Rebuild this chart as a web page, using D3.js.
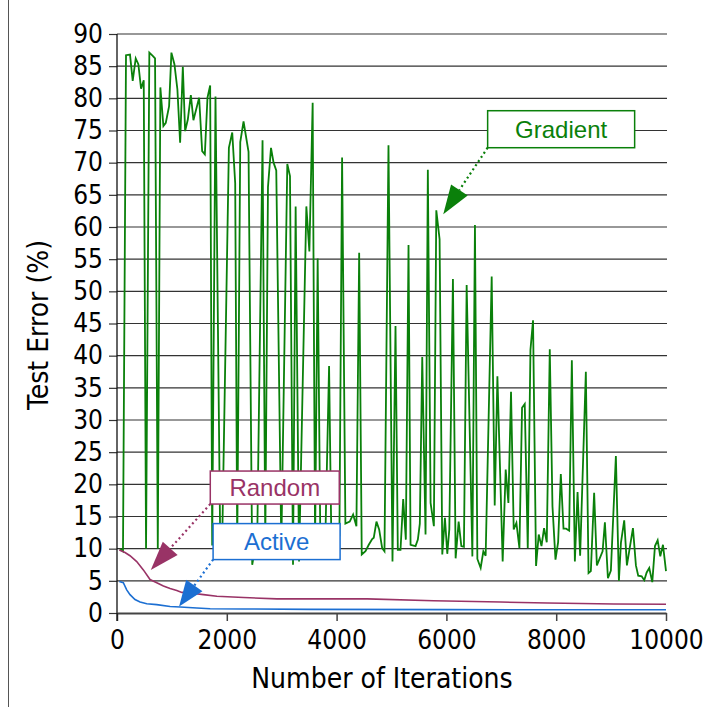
<!DOCTYPE html>
<html>
<head>
<meta charset="utf-8">
<script src="https://cdn.jsdelivr.net/npm/d3@7"></script>
<style>
  body { margin: 0; background: #fff; }
  svg { display: block; }
  .tick text { font-family: "DejaVu Sans Condensed", "DejaVu Sans", sans-serif; font-size: 26px; fill: #000; }
  .title { font-family: "DejaVu Sans Condensed", "DejaVu Sans", sans-serif; font-size: 28px; fill: #000; }
  .note { font-family: "Liberation Sans", Arial, sans-serif; font-size: 24px; }
</style>
</head>
<body>
<svg id="chart" width="709" height="707"></svg>
<script>
const iterTicks = [0, 2000, 4000, 6000, 8000, 10000];
const errorTicks = [0, 5, 10, 15, 20, 25, 30, 35, 40, 45, 50, 55, 60, 65, 70, 75, 80, 85, 90];

const gradientIter = [55,109,164,237,286,341,389,438,487,529,589,651,693,743,790,845,889,949,991,1046,1100,1150,1199,1241,1290,1345,1392,1496,1551,1600,1648,1697,1734,1794,1880,1916,2038,2099,2153,2190,2245,2305,2396,2463,2555,2651,2701,2750,2805,2852,2901,2993,3102,3151,3206,3254,3316,3449,3504,3564,3608,3655,3704,3796,3863,3905,4051,4100,4160,4239,4301,4361,4411,4458,4526,4586,4648,4677,4726,4775,4830,4872,4945,5018,5073,5115,5164,5213,5261,5310,5347,5438,5480,5516,5560,5620,5662,5712,5772,5816,5876,5925,5973,6016,6053,6119,6168,6223,6272,6319,6369,6473,6520,6564,6624,6673,6715,6825,6880,6929,7025,7080,7129,7177,7226,7275,7330,7378,7427,7482,7531,7578,7633,7682,7732,7779,7828,7883,7932,7987,8035,8084,8133,8181,8236,8285,8340,8389,8436,8540,8589,8631,8691,8741,8845,8887,8942,8996,9087,9142,9179,9239,9288,9398,9452,9494,9557,9604,9648,9695,9750,9799,9848,9896,9945,10000];
const gradientErr = [10.0,9.6,86.7,86.8,82.7,86.2,85.3,81.5,82.8,10.0,87.1,86.6,86.2,10.0,81.7,75.7,76.2,78.8,87.1,85.3,81.4,73.1,84.9,74.9,76.7,80.5,76.6,80.1,71.8,71.3,80.1,82.0,10.5,80.3,11.0,11.0,72.3,74.7,66.8,10.5,73.2,76.4,71.7,7.5,12.0,73.5,11.0,66.2,72.3,70.0,68.8,10.5,69.8,67.9,7.5,63.2,8.0,63.2,56.2,79.3,11.0,55.1,11.0,12.0,38.4,11.0,12.0,70.8,13.9,14.2,15.3,13.5,56.0,9.1,9.6,10.6,11.5,11.7,14.2,13.0,10.1,9.6,72.7,8.0,44.6,9.8,9.8,17.7,11.4,57.2,10.6,10.4,11.4,13.9,39.8,12.2,68.9,17.1,13.5,62.6,58.1,9.1,14.8,9.2,13.0,51.9,8.5,14.2,10.4,10.3,51.0,8.8,60.3,8.4,7.0,9.6,8.9,52.3,16.7,36.8,8.0,22.3,17.1,34.4,13.0,14.0,10.1,31.9,32.5,10.1,40.9,45.5,7.3,12.2,10.4,13.2,11.0,41.0,16.6,8.3,11.0,21.6,13.1,13.1,12.8,39.3,8.0,18.8,8.9,37.5,6.2,6.5,18.7,7.4,9.6,14.1,5.4,6.6,24.4,5.0,10.9,14.4,7.4,13.2,7.4,5.8,5.7,5.1,6.3,7.0,4.8,10.4,11.3,8.8,10.6,6.5];

const randomIter = [42,146,237,359,480,602,724,845,967,1089,1181,1332,1575,1819,2305,2914,3522,4557,5766,6989,7841,9051,10000];
const randomErr = [9.8,9.4,8.9,8.0,6.7,5.2,4.7,4.2,3.8,3.5,3.2,3.1,2.85,2.6,2.4,2.2,2.2,2.2,1.9,1.7,1.55,1.4,1.35];

const activeIter = [42,115,177,237,328,420,542,724,967,1150,1454,1697,2305,3522,6077,10000];
const activeErr = [4.9,4.7,3.6,2.85,2.1,1.7,1.45,1.3,1.0,0.93,0.78,0.67,0.62,0.57,0.52,0.5];

const seriesNames = ["Gradient", "Random", "Active"];
const seriesColors = ["#0a800a", "#993366", "#1c6fd2"];
// where each callout arrow points, in data units
const tipIter = [5943, 615, 1131];
const tipErr = [62.0, 6.7, 1.0];
// callout box centres, in data units
const boxIter = [8090, 2874, 2907];
const boxErr = [75.2, 19.5, 11.1];

const svg = d3.select("#chart");
const x = d3.scaleLinear([0, 10000], [117, 666]);
const y = d3.scaleLinear([0, 90], [613, 34]);

// frame line on the left
svg.append("line").attr("x1", 8.5).attr("x2", 8.5).attr("y1", 0).attr("y2", 707)
  .attr("stroke", "#555").attr("stroke-width", 1);

// gridlines
svg.append("g").selectAll("line").data(errorTicks.filter((d) => d > 0)).join("line")
  .attr("x1", 117).attr("x2", 667)
  .attr("y1", (d) => y(d)).attr("y2", (d) => y(d))
  .attr("stroke", "#333").attr("stroke-width", 1.2);

const yAxis = svg.append("g").attr("transform", "translate(117,0)")
  .call(d3.axisLeft(y).tickValues(errorTicks).tickSize(8).tickPadding(6).tickFormat(d3.format("d")));
yAxis.select(".domain").remove();
yAxis.selectAll(".tick line").attr("stroke", "#333").attr("stroke-width", 1.2);

const xAxis = svg.append("g").attr("transform", "translate(0,613)")
  .call(d3.axisBottom(x).tickValues(iterTicks).tickSize(8).tickSizeOuter(0).tickPadding(10).tickFormat(d3.format("d")));
xAxis.select(".domain").attr("stroke", "#444").attr("stroke-width", 2.2);
xAxis.selectAll(".tick line").attr("stroke", "#444").attr("stroke-width", 1.5);

svg.append("line").attr("x1", 117).attr("x2", 117).attr("y1", 34).attr("y2", 621)
  .attr("stroke", "#111").attr("stroke-width", 1.3);

// series
const line = d3.line().x((d) => x(d[0])).y((d) => y(d[1]));
const series = [
  d3.zip(gradientIter, gradientErr),
  d3.zip(randomIter, randomErr),
  d3.zip(activeIter, activeErr),
];
svg.append("g").selectAll("path").data(series).join("path")
  .attr("d", line)
  .attr("fill", "none")
  .attr("stroke", (d, i) => seriesColors[i])
  .attr("stroke-width", (d, i) => (i == 0 ? 1.8 : 1.6));

// callouts
const boxW = [147, 129, 127];
const boxH = [37, 33, 36];
seriesNames.forEach((name, i) => {
  const cx = x(boxIter[i]), cy = y(boxErr[i]);
  const x0 = cx - boxW[i] / 2, y1 = cy + boxH[i] / 2;
  const tx = x(tipIter[i]), ty = y(tipErr[i]);
  const dx = tx - x0, dy = ty - y1;
  const len = Math.hypot(dx, dy);
  const ux = dx / len, uy = dy / len;
  const head = i == 2 ? 26 : 29, half = 10;
  const bx = tx - ux * head, by = ty - uy * head;
  const g = svg.append("g");
  g.append("line").attr("x1", x0).attr("y1", y1).attr("x2", bx).attr("y2", by)
    .attr("stroke", seriesColors[i]).attr("stroke-width", 2.2).attr("stroke-dasharray", "2,3");
  g.append("path")
    .attr("d", `M${tx},${ty}L${bx - uy * half},${by + ux * half}L${bx + uy * half},${by - ux * half}Z`)
    .attr("fill", seriesColors[i]);
  g.append("rect").attr("x", x0).attr("y", cy - boxH[i] / 2).attr("width", boxW[i]).attr("height", boxH[i])
    .attr("fill", "#fff").attr("stroke", seriesColors[i]).attr("stroke-width", 1.5);
  g.append("text").attr("class", "note").attr("x", cx).attr("y", cy).attr("dy", "0.35em")
    .attr("text-anchor", "middle").attr("fill", seriesColors[i]).text(name);
});

svg.append("text").attr("class", "title").attr("text-anchor", "middle")
  .attr("transform", "translate(48,325) rotate(-90)").text("Test Error (%)");
svg.append("text").attr("class", "title").attr("text-anchor", "middle")
  .attr("x", 382).attr("y", 688).text("Number of Iterations");
</script>
</body>
</html>
